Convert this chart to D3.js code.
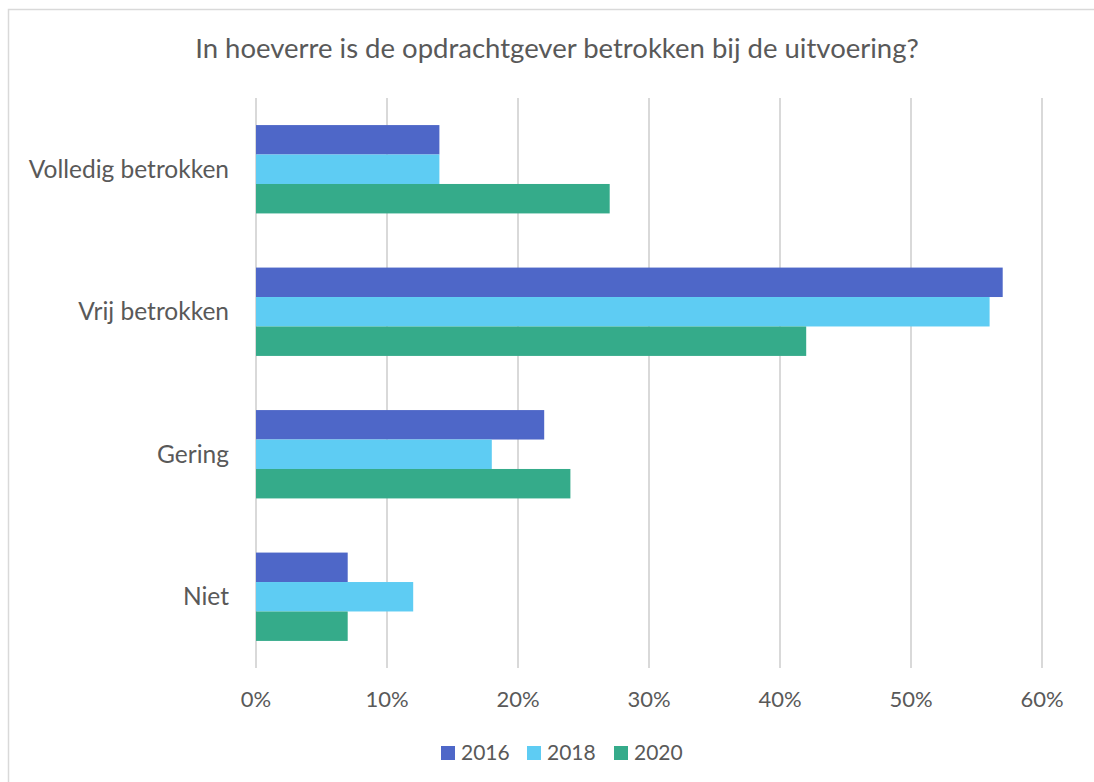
<!DOCTYPE html>
<html>
<head>
<meta charset="utf-8">
<script src="https://cdn.jsdelivr.net/npm/d3@7"></script>
<style>
    body { margin: 0; background: #fff; }
    svg { display: block; font-family: Lato, "Open Sans", sans-serif; }
    text { fill: #595959; }
</style>
</head>
<body>
<div id="chart"></div>
<script>
// Data
const categories = ['Volledig betrokken', 'Vrij betrokken', 'Gering', 'Niet'];
const years = ['2016', '2018', '2020'];
const values2016 = [14, 57, 22, 7];
const values2018 = [14, 56, 18, 12];
const values2020 = [27, 42, 24, 7];
const xTicks = [0, 10, 20, 30, 40, 50, 60];
const colors = ['#4E67C8', '#5ECCF3', '#35AB8A'];

const series = [values2016, values2018, values2020];

const width = 1094;
const height = 782;
const plot = { left: 256, right: 1042, top: 98, bottom: 668 };

const svg = d3.select('#chart')
    .append('svg')
    .attr('width', width)
    .attr('height', height);

// Chart frame
svg.append('rect')
    .attr('x', 8.5)
    .attr('y', 9.5)
    .attr('width', width + 20)
    .attr('height', height + 20)
    .attr('fill', 'none')
    .attr('stroke', '#d9d9d9')
    .attr('stroke-width', 1.5);

// Title
svg.append('text')
    .attr('x', 557)
    .attr('y', 58)
    .attr('text-anchor', 'middle')
    .attr('font-size', '27.5px')
    .text('In hoeverre is de opdrachtgever betrokken bij de uitvoering?');

const x = d3.scaleLinear()
    .domain([0, 60])
    .range([plot.left, plot.right]);

const y = d3.scaleBand()
    .domain(categories)
    .range([plot.top, plot.bottom])
    .paddingInner(0.38)
    .paddingOuter(0.19);

const ySub = d3.scaleBand()
    .domain(years)
    .range([0, y.bandwidth()]);

// Gridlines
svg.append('g')
    .selectAll('line')
    .data(xTicks)
    .enter()
    .append('line')
    .attr('x1', d => x(d))
    .attr('x2', d => x(d))
    .attr('y1', plot.top)
    .attr('y2', plot.bottom)
    .attr('stroke', '#d9d9d9')
    .attr('stroke-width', 2);

// Bars
const groups = svg.append('g')
    .selectAll('g')
    .data(categories)
    .enter()
    .append('g')
    .attr('transform', d => `translate(0, ${y(d)})`);

groups.selectAll('rect')
    .data((d, i) => years.map((yr, j) => ({ year: yr, value: series[j][i], idx: j })))
    .enter()
    .append('rect')
    .attr('x', x(0))
    .attr('y', d => ySub(d.year))
    .attr('width', d => x(d.value) - x(0))
    .attr('height', ySub.bandwidth())
    .attr('fill', d => colors[d.idx]);

// Category labels
svg.append('g')
    .selectAll('text')
    .data(categories)
    .enter()
    .append('text')
    .attr('x', 229)
    .attr('y', d => y(d) + y.bandwidth() / 2)
    .attr('dy', '.35em')
    .attr('text-anchor', 'end')
    .attr('font-size', '24.5px')
    .text(d => d);

// X tick labels
svg.append('g')
    .selectAll('text')
    .data(xTicks)
    .enter()
    .append('text')
    .attr('x', d => x(d))
    .attr('y', 707)
    .attr('text-anchor', 'middle')
    .attr('font-size', '22px')
    .text(d => d + '%');

// Legend
const legendX = [441, 527, 614];
const legend = svg.append('g');
years.forEach((yr, i) => {
    const g = legend.append('g')
        .attr('transform', `translate(${legendX[i]}, 746)`);
    g.append('rect')
        .attr('width', 14)
        .attr('height', 14)
        .attr('fill', colors[i]);
    g.append('text')
        .attr('x', 20)
        .attr('y', 14)
        .attr('font-size', '21px')
        .text(yr);
});
</script>
</body>
</html>
